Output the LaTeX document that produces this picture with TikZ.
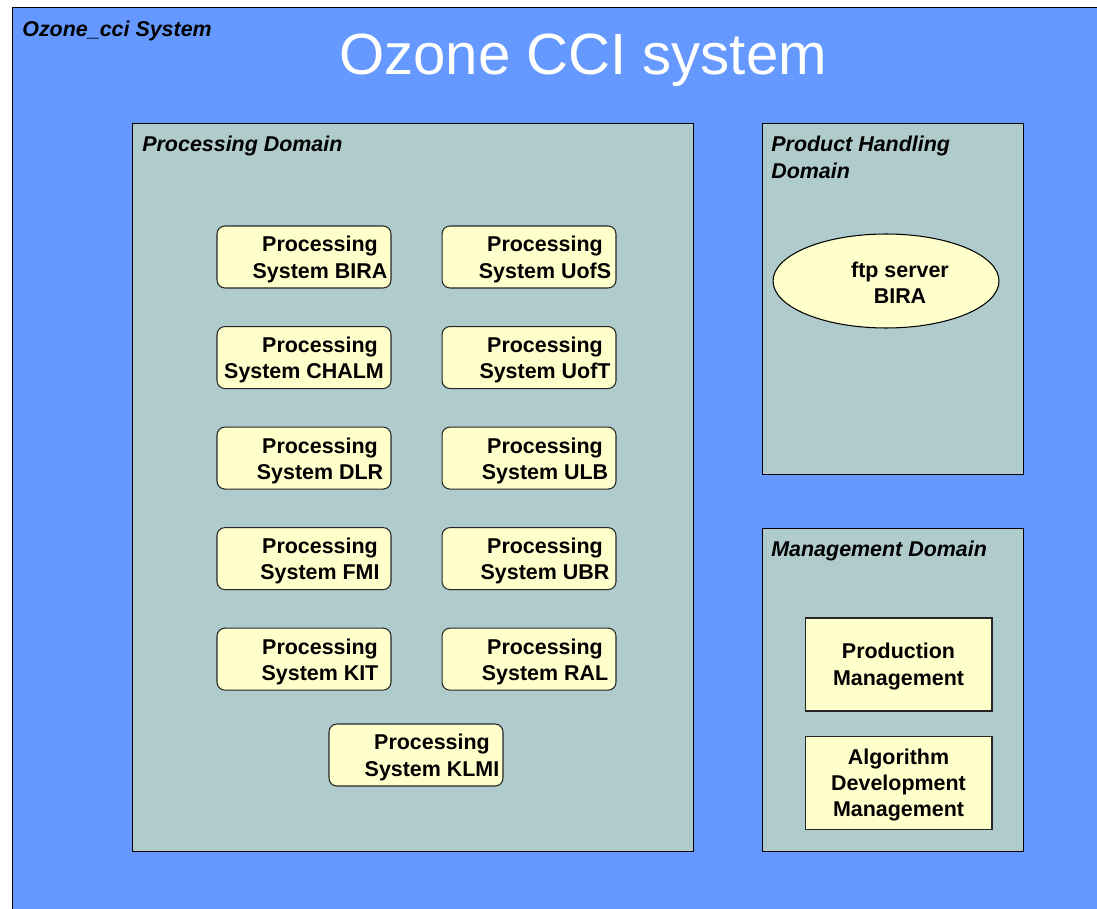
\documentclass[tikz,border=0pt]{standalone}
\usepackage{fontspec}
\setmainfont{Liberation Sans}
\usetikzlibrary{positioning,shapes.geometric}
\definecolor{sysblue}{RGB}{102,153,255}
\definecolor{domaingray}{RGB}{176,203,204}
\definecolor{boxyellow}{RGB}{255,255,204}
\newcommand{\boxfont}{\bfseries\fontsize{12.2}{14.9}\selectfont}

\begin{document}
\begin{tikzpicture}[x=0.02cm,y=-0.02cm,node distance=0.75cm and 1cm,
    domainbox/.style={draw=black,fill=domaingray,line width=0.6pt,anchor=north west,inner sep=0pt},
    proc/.style={draw=black!85,fill=boxyellow,rounded corners=4.5pt,line width=0.6pt,
                 minimum width=3.48cm,minimum height=1.24cm,inner sep=0pt},
    proctext/.style={font=\boxfont,align=center,inner sep=0pt,xshift=0.32cm,yshift=-0.05cm},
    mgmt/.style={draw=black!85,fill=boxyellow,line width=0.6pt,minimum width=3.74cm,
                 minimum height=1.86cm,inner sep=0pt},
    mgmttext/.style={font=\boxfont,align=center,inner sep=0pt,yshift=-0.04cm},
    heading/.style={font=\bfseries\itshape\fontsize{12.2}{15.3}\selectfont,
                    anchor=base west,inner sep=0pt,align=left}]

  \useasboundingbox (0,0) rectangle (1097,908);
  \draw[fill=sysblue,line width=0.85pt] (12.5,7.5) rectangle (1102,912);
  \node[heading] (syslabel) at (22,37) {Ozone\_cci System};
  \node[font=\fontsize{33.1}{40}\selectfont,text=white,anchor=base,inner sep=0pt]
        (title) at (583,75) {Ozone CCI system};

  % domains
  \node[domainbox,minimum width=11.22cm,minimum height=14.56cm] (procdom) at (132,123) {};
  \node[domainbox,minimum width=5.22cm,minimum height=7.02cm] (proddom) at (762,123) {};
  \node[domainbox,minimum width=5.22cm,minimum height=6.46cm] (mgmtdom) at (762,528) {};
  \node[heading] (proclabel) at (142,151.5) {Processing Domain};
  \node[heading] (prodlabel) at (771,178.5) {Product Handling\\Domain};
  \node[heading] (mgmtlabel) at (771,556.5) {Management Domain};

  % processing systems
  \node[proc,label={[proctext]center:{Processing\\System BIRA}}] (bira) at (304,257) {};
  \node[proc,label={[proctext]center:{Processing\\System UofS}}] (uofs) [right=of bira] {};
  \node[proc,label={[proctext,xshift=-0.32cm]center:{\hspace*{0.64cm}Processing\\System CHALM}}]
        (chalm) [below=of bira] {};
  \node[proc,label={[proctext]center:{Processing\\System UofT}}] (uoft) [right=of chalm] {};
  \node[proc,label={[proctext]center:{Processing\\System DLR}}] (dlr) [below=of chalm] {};
  \node[proc,label={[proctext]center:{Processing\\System ULB}}] (ulb) [right=of dlr] {};
  \node[proc,label={[proctext]center:{Processing\\System FMI}}] (fmi) [below=of dlr] {};
  \node[proc,label={[proctext]center:{Processing\\System UBR}}] (ubr) [right=of fmi] {};
  \node[proc,label={[proctext]center:{Processing\\System KIT}}] (kit) [below=of fmi] {};
  \node[proc,label={[proctext]center:{Processing\\System RAL}}] (ral) [right=of kit] {};
  \node[proc,label={[proctext]center:{Processing\\System KLMI}}] (klmi) at (416,755) {};

  % product handling
  \node[ellipse,draw=black,fill=boxyellow,line width=0.6pt,minimum width=4.52cm,
        minimum height=1.88cm,inner sep=0pt,
        label={[mgmttext,xshift=0.28cm]center:{ftp server\\BIRA}}]
        (ftp) at (886,281) {};

  % management
  \node[mgmt,label={[mgmttext]center:{Production\\Management}}] (prodmgmt) at (898.5,664.5) {};
  \node[mgmt,label={[mgmttext]center:{Algorithm\\Development\\Management}}] (algmgmt) at (898.5,783) {};
\end{tikzpicture}
\end{document}
